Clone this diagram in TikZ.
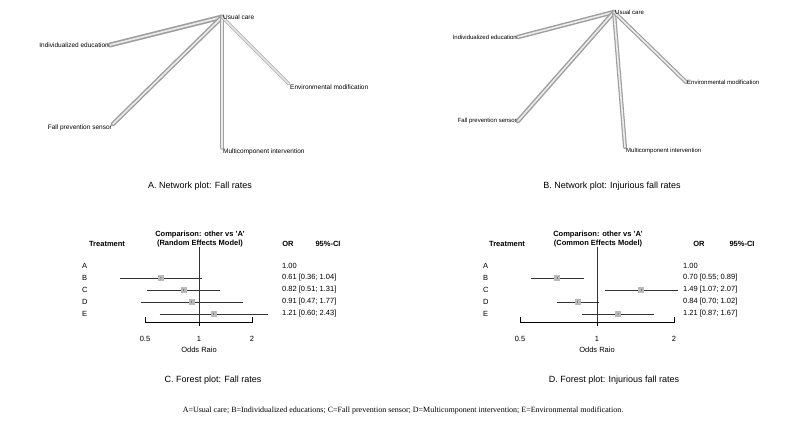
\documentclass[tikz,border=0pt]{standalone}
\usepackage{fontspec}
\setmainfont{Liberation Sans}
\newfontfamily\capserif{Liberation Serif}
\usetikzlibrary{positioning}
\tikzstyle{edge} = [line width=4.5pt, draw=gray!75, line cap=round]
\tikzstyle{edgecore} = [line width=1.6pt, draw=gray!15, line cap=round]
\tikzstyle{netlabel} = [font=\fontsize{6.5}{7}\selectfont, inner sep=1pt]
\tikzstyle{caption} = [font=\fontsize{9}{10}\selectfont]
\tikzstyle{head} = [font=\fontsize{7.5}{8.5}\selectfont\bfseries, align=center]
\tikzstyle{row} = [font=\fontsize{7.5}{8}\selectfont, inner sep=0pt]
\tikzstyle{box} = [fill=gray!55, minimum size=6pt, inner sep=0pt]

\begin{document}
\begin{tikzpicture}[x=1pt,y=-1pt]
\useasboundingbox (0,0) rectangle (805,427);
% network A
\coordinate (ua) at (222,17);
\coordinate (ia) at (110,45);
\coordinate (fa) at (113,124);
\coordinate (ma) at (222,148);
\coordinate (ea) at (289,84);
\foreach \t/\w in {ia/5pt,fa/4.5pt,ma/3.5pt,ea/3pt}{
  \draw[edge, line width=\w] (ua) -- (\t);
  \draw[edgecore] (ua) -- (\t);}
\node[netlabel, anchor=west] (uca) at (ua) {Usual care};
\node[netlabel, anchor=east] (iea) at (ia) {Individualized education};
\node[netlabel, anchor=north east] (fpa) at (fa) {Fall prevention sensor};
\node[netlabel, anchor=north west] (mia) at (ma) {Multicomponent intervention};
\node[netlabel, anchor=north west] (ema) at (ea) {Environmental modification};
% network B
\coordinate (ub) at (614,12);
\coordinate (ib) at (518,37);
\coordinate (fb) at (518,121);
\coordinate (mb) at (625,147);
\coordinate (eb) at (686,82);
\foreach \t/\w in {ib/4.5pt,fb/4.5pt,mb/4pt,eb/4pt}{
  \draw[edge, line width=\w] (ub) -- (\t);
  \draw[edgecore] (ub) -- (\t);}
\node[netlabel, font=\fontsize{6}{7}\selectfont, anchor=west] (ucb) at (ub) {Usual care};
\node[netlabel, font=\fontsize{6}{7}\selectfont, anchor=east] (ieb) at (ib) {Individualized education};
\node[netlabel, font=\fontsize{6}{7}\selectfont, anchor=east] (fpb) at (fb) {Fall prevention sensor};
\node[netlabel, font=\fontsize{6}{7}\selectfont, anchor=north west] (mib) at (mb) {Multicomponent intervention};
\node[netlabel, font=\fontsize{6}{7}\selectfont, anchor=west] (emb) at (eb) {Environmental modification};
\node[caption] (capa) at (200,186) {A. Network plot: Fall rates};
\node[caption] (capb) at (612,186) {B. Network plot: Injurious fall rates};
% forest C
\node[head] (tc) at (107,244) {Treatment};
\node[head] (hc) at (200,239) {Comparison: other vs 'A'\\(Random Effects Model)};
\node[head] (orc) at (288,244) {OR};
\node[head] (cic) at (328,244) {95\%-CI};
\draw[black!80] (199,247) -- (199,322);
\draw (145,317) -- (145,322) -- (252,322) -- (252,317);
\draw (199,322) -- (199,326);
\node[row] (t1c) at (145,339) {0.5};
\node[row] (t2c) at (199,339) {1};
\node[row] (t3c) at (252,339) {2};
\node[row] (xc) at (199,350) {Odds Raio};
\node[row, anchor=west] (ac) at (82,266) {A};
\node[row, anchor=west] (vac) at (282,266) {1.00};
\foreach \n/\y/\est/\lo/\hi/\txt in {B/278/0.61/0.36/1.04/{0.61 [0.36; 1.04]},
  C/290/0.82/0.51/1.31/{0.82 [0.51; 1.31]},
  D/302/0.91/0.47/1.77/{0.91 [0.47; 1.77]},
  E/314/1.21/0.60/2.43/{1.21 [0.60; 2.43]}}{
  \node[row, anchor=west] (l\n c) at (82,\y) {\n};
  \draw[black!80] ({199+53.5*log2(\lo)},\y) -- ({199+53.5*log2(\hi)},\y);
  \node[box] (b\n c) at ({199+53.5*log2(\est)},\y) {};
  \fill ({199+53.5*log2(\est)},\y) circle (0.5pt);
  \node[row, anchor=west] (v\n c) at (282,\y) {\txt};}
\node[caption] (capc) at (213,380) {C. Forest plot: Fall rates};
% forest D
\node[head] (td) at (507,244) {Treatment};
\node[head] (hd) at (598,239) {Comparison: other vs 'A'\\(Common Effects Model)};
\node[head] (ord) at (699,244) {OR};
\node[head] (cid) at (742,244) {95\%-CI};
\draw[black!80] (597,247) -- (597,322);
\draw (520,317) -- (520,322) -- (674,322) -- (674,317);
\draw (597,322) -- (597,326);
\node[row] (t1d) at (520,339) {0.5};
\node[row] (t2d) at (597,339) {1};
\node[row] (t3d) at (674,339) {2};
\node[row] (xd) at (597,350) {Odds Raio};
\node[row, anchor=west] (ad) at (483,266) {A};
\node[row, anchor=west] (vad) at (683,266) {1.00};
\foreach \n/\y/\est/\lo/\hi/\txt in {B/278/0.70/0.55/0.89/{0.70 [0.55; 0.89]},
  C/290/1.49/1.07/2.07/{1.49 [1.07; 2.07]},
  D/302/0.84/0.70/1.02/{0.84 [0.70; 1.02]},
  E/314/1.21/0.87/1.67/{1.21 [0.87; 1.67]}}{
  \node[row, anchor=west] (l\n d) at (483,\y) {\n};
  \draw[black!80] ({597+77*log2(\lo)},\y) -- ({597+77*log2(\hi)},\y);
  \node[box] (b\n d) at ({597+77*log2(\est)},\y) {};
  \fill ({597+77*log2(\est)},\y) circle (0.5pt);
  \node[row, anchor=west] (v\n d) at (683,\y) {\txt};}
\node[caption] (capd) at (614,380) {D. Forest plot: Injurious fall rates};
\node[font=\capserif\fontsize{8}{9}\selectfont] (foot) at (403,411) {A=Usual care; B=Individualized educations; C=Fall prevention sensor; D=Multicomponent intervention; E=Environmental modification.};
\end{tikzpicture}
\end{document}
